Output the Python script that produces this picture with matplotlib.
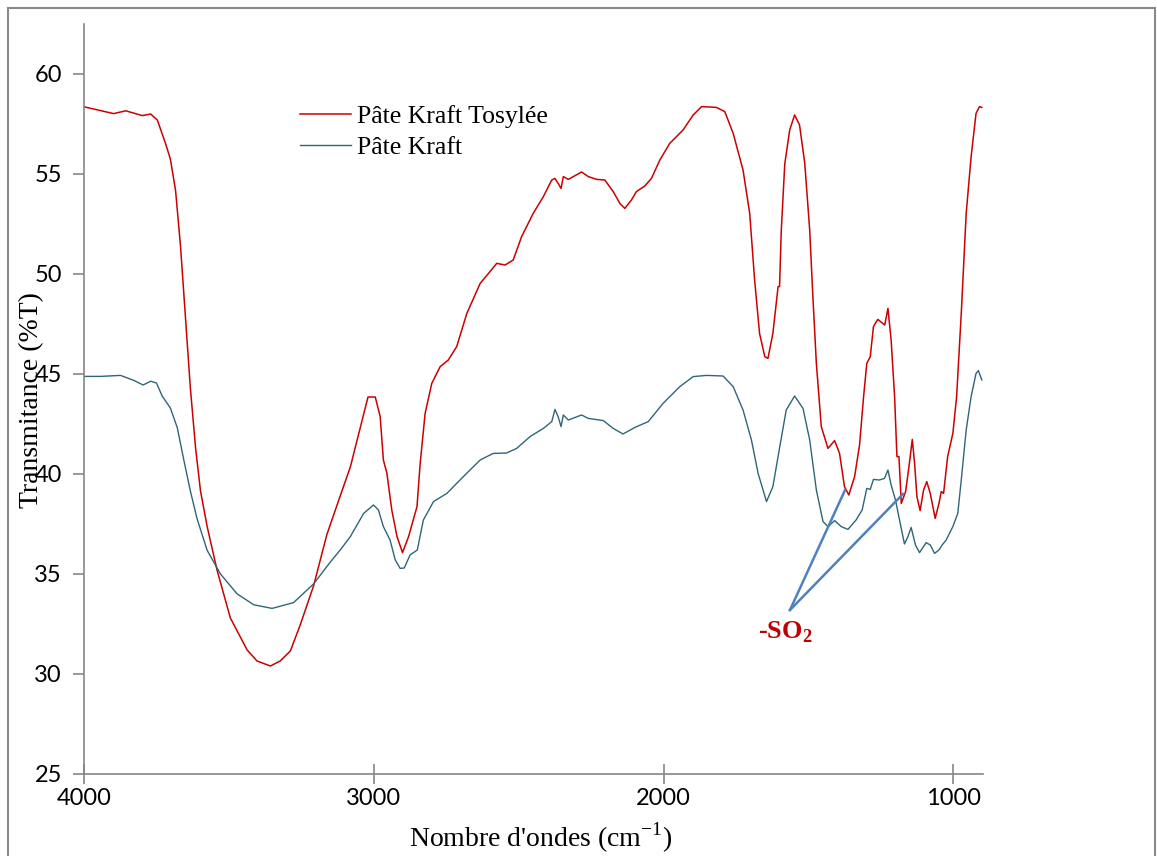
import matplotlib
matplotlib.use("Agg")
import matplotlib.pyplot as plt
from matplotlib.patches import Rectangle

# Pâte Kraft Tosylée
red_wn = [4000, 3898, 3856, 3799, 3770, 3747, 3719, 3702, 3684, 3667, 3650, 3633, 3615, 3598, 3575,
          3541, 3495, 3437, 3403, 3357, 3323, 3288, 3254, 3208, 3162, 3116, 3081, 3046, 3020, 2995,
          2978, 2967, 2955, 2938, 2920, 2901, 2880, 2851, 2840, 2823, 2800, 2771, 2743, 2714, 2679,
          2633, 2599, 2576, 2547, 2519, 2490, 2450, 2415, 2386, 2375, 2364, 2354, 2346, 2329, 2283,
          2260, 2231, 2203, 2174, 2151, 2134, 2111, 2094, 2065, 2042, 2013, 1979, 1933, 1898, 1869,
          1818, 1789, 1760, 1726, 1703, 1686, 1669, 1651, 1640, 1623, 1605, 1600, 1594, 1582, 1565,
          1548, 1531, 1513, 1496, 1485, 1473, 1456, 1433, 1410, 1393, 1376, 1361, 1341, 1324, 1310,
          1299, 1287, 1276, 1261, 1244, 1237, 1226, 1215, 1203, 1195, 1188, 1180, 1165, 1152, 1142,
          1134, 1126, 1115, 1103, 1092, 1080, 1063, 1050, 1042, 1034, 1020, 1002, 989, 973, 956,
          939, 922, 910, 902]
red_T = [58.36, 58.02, 58.16, 57.92, 58.0, 57.7, 56.54, 55.75, 54.17, 51.4, 47.85, 44.3, 41.3, 39.15, 37.37,
         35.2, 32.8, 31.2, 30.65, 30.4, 30.65, 31.15, 32.45, 34.4, 36.97, 38.9, 40.35, 42.37, 43.85, 43.85,
         42.87, 40.7, 40.05, 38.2, 36.87, 36.07, 36.87, 38.37, 40.53, 43.03, 44.53, 45.37, 45.7, 46.37, 48.03,
         49.53, 50.12, 50.53, 50.45, 50.7, 51.87, 53.03, 53.87, 54.7, 54.78, 54.53, 54.28, 54.87, 54.73, 55.1,
         54.87, 54.73, 54.7, 54.12, 53.53, 53.28, 53.7, 54.12, 54.4, 54.78, 55.7, 56.53, 57.2, 57.95, 58.37,
         58.33, 58.12, 57.03, 55.2, 53.03, 49.7, 47.03, 45.87, 45.78, 47.03, 49.37, 49.37, 52.2, 55.5, 57.2,
         57.95, 57.45, 55.53, 52.2, 48.87, 45.53, 42.37, 41.28, 41.67, 41.03, 39.37, 38.95, 39.87, 41.45, 43.87,
         45.53, 45.87, 47.37, 47.73, 47.53, 47.45, 48.28, 46.7, 43.87, 40.87, 40.87, 38.53, 39.12, 40.53, 41.73,
         40.53, 38.87, 38.17, 39.2, 39.62, 39.03, 37.78, 38.53, 39.12, 39.03, 40.87, 42.03, 43.87, 48.03, 53.03,
         55.87, 58.03, 58.37, 58.33]

# Pâte Kraft
blue_wn = [4000, 3943, 3874, 3828, 3796, 3770, 3750, 3730, 3702, 3678, 3656, 3633, 3610, 3575, 3529,
           3472, 3414, 3351, 3277, 3208, 3150, 3116, 3081, 3035, 3001, 2984, 2967, 2944, 2926, 2909,
           2895, 2875, 2850, 2829, 2794, 2748, 2691, 2633, 2588, 2542, 2507, 2461, 2415, 2386, 2375,
           2364, 2354, 2346, 2329, 2283, 2260, 2208, 2174, 2140, 2099, 2053, 2002, 1944, 1898, 1852,
           1795, 1760, 1726, 1697, 1674, 1645, 1623, 1600, 1577, 1548, 1519, 1496, 1473, 1450, 1433,
           1410, 1387, 1364, 1336, 1315, 1299, 1287, 1276, 1256, 1238, 1226, 1215, 1200, 1186, 1169,
           1157, 1146, 1131, 1117, 1094, 1080, 1065, 1050, 1039, 1025, 1002, 985, 973, 956, 939,
           922, 914, 902]
blue_T = [44.88, 44.88, 44.93, 44.68, 44.45, 44.64, 44.55, 43.89, 43.3, 42.31, 40.73, 39.15, 37.77, 36.18, 35.0,
          34.01, 33.46, 33.28, 33.57, 34.5, 35.6, 36.2, 36.87, 38.03, 38.45, 38.2, 37.37, 36.7, 35.7, 35.28,
          35.3, 35.95, 36.2, 37.7, 38.62, 39.03, 39.87, 40.7, 41.03, 41.05, 41.28, 41.87, 42.28, 42.62, 43.23,
          42.87, 42.37, 42.95, 42.7, 42.95, 42.78, 42.67, 42.28, 42.0, 42.33, 42.62, 43.53, 44.37, 44.87, 44.93,
          44.9, 44.37, 43.2, 41.7, 40.03, 38.62, 39.37, 41.3, 43.2, 43.9, 43.28, 41.7, 39.2, 37.62, 37.37,
          37.67, 37.37, 37.23, 37.7, 38.2, 39.28, 39.23, 39.73, 39.7, 39.78, 40.2, 39.45, 38.7, 37.7, 36.5,
          36.87, 37.33, 36.45, 36.07, 36.57, 36.45, 36.03, 36.2, 36.45, 36.7, 37.37, 38.03, 39.7, 42.2, 43.87,
          45.03, 45.17, 44.7]

# annotation -SO2
so2_text_pos = (1581, 32.1)
so2_apex = (1564, 33.2)
so2_ends = [(1374, 39.2), (1174, 39.0)]

xticks = [4000, 3000, 2000, 1000]
yticks = [25, 30, 35, 40, 45, 50, 55, 60]

plt.rcParams['mathtext.fontset'] = 'custom'
plt.rcParams['mathtext.rm'] = 'Liberation Serif'
plt.rcParams['mathtext.bf'] = 'Liberation Serif:bold'

fig = plt.figure(figsize=(11.57, 8.56), dpi=100)
ax = fig.add_axes([84/1157, 1 - 774/856, (983-84)/1157, (774-24)/856])

ax.plot(red_wn, red_T, color='#CC0000', lw=1.1, label='Pâte Kraft Tosylée')
ax.plot(blue_wn, blue_T, color='#2F6677', lw=1.0, label='Pâte Kraft')

for e in so2_ends:
    ax.plot([so2_apex[0], e[0]], [so2_apex[1], e[1]], color='#4F81BD', lw=1.8)
ax.text(so2_text_pos[0], so2_text_pos[1], r'-SO$_\mathbf{2}$', color='#C00000', fontsize=19,
        fontweight='bold', family='Liberation Serif', ha='center', va='center')

ax.set_xlim(4000, 898)
ax.set_ylim(25, 62.5)
ax.set_xticks(xticks)
ax.set_yticks(yticks)

for s in ['top', 'right']:
    ax.spines[s].set_visible(False)
for s in ['left', 'bottom']:
    ax.spines[s].set_color('#868686')
    ax.spines[s].set_linewidth(1.2)

ax.tick_params(axis='y', direction='out', length=8, width=1.2, color='#868686', pad=8,
               labelsize=17)
ax.tick_params(axis='x', direction='inout', length=14, width=1.2, color='#868686', pad=3,
               labelsize=17)
for lab in ax.get_xticklabels() + ax.get_yticklabels():
    lab.set_family('Lato')

leg = ax.legend(loc='upper left', bbox_to_anchor=(0.2403, 0.892), frameon=False,
                prop={'family': 'Liberation Serif', 'size': 18.5}, handlelength=2.0,
                handletextpad=0.2, labelspacing=0.33, borderpad=0, borderaxespad=0)

fig.text(541/1157, 1 - 838/856, "Nombre d'ondes (cm$^{-1}$)", family='Liberation Serif',
         fontsize=20, ha='center', va='center')
fig.text(32/1157, 1 - 400/856, "Transmitance (%T)", family='Liberation Serif',
         fontsize=20, ha='center', va='center', rotation=90)

fig.patches.append(Rectangle((8/1157, -0.01), (1155-8)/1157, (856-8)/856 + 0.01,
                             transform=fig.transFigure, fill=False, edgecolor='#8a8a8a', lw=1.5))

fig.savefig('out.png', dpi=100)
